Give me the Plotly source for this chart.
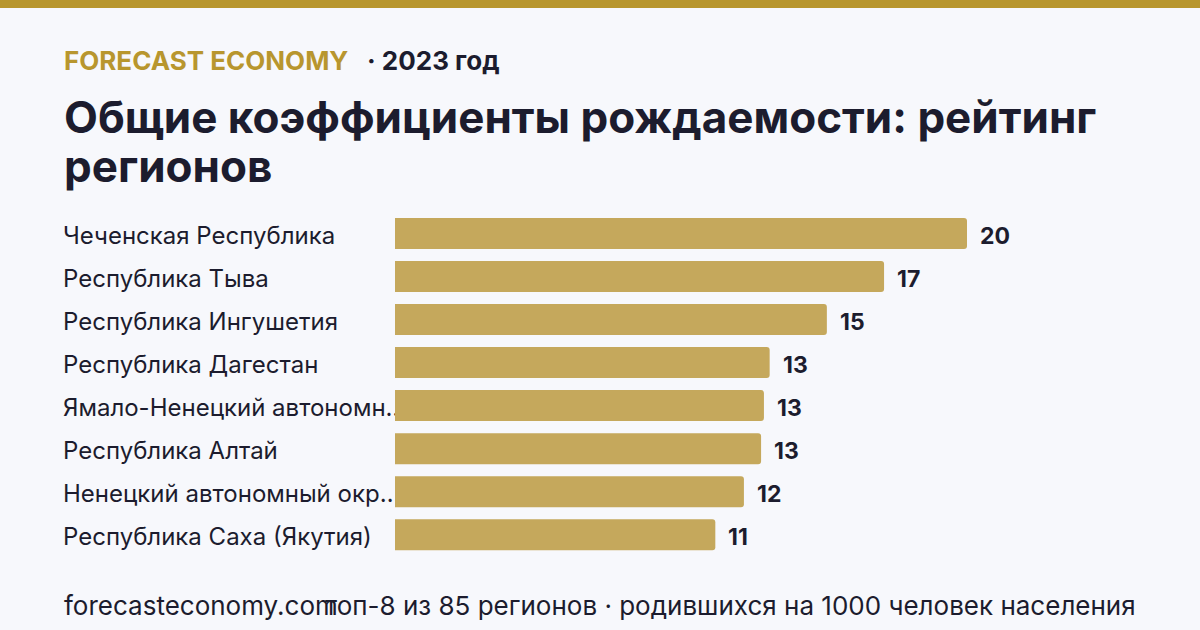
import plotly.graph_objects as go

# ---------------- data ----------------
regions_full = [
    "Чеченская Республика",
    "Республика Тыва",
    "Республика Ингушетия",
    "Республика Дагестан",
    "Ямало-Ненецкий автономный округ",
    "Республика Алтай",
    "Ненецкий автономный округ",
    "Республика Саха (Якутия)",
]
birth_rates = [20.0, 17.1, 15.1, 13.1, 12.9, 12.8, 12.2, 11.2]

brand = "FORECAST ECONOMY"
year_label = "· 2023 год"
title_line1 = "Общие коэффициенты рождаемости: рейтинг"
title_line2 = "регионов"
footer_left = "forecasteconomy.com"
footer_right = "топ-8 из 85 регионов · родившихся на 1000 человек населения"

# ---------------- style ----------------
W, H = 1200, 630
BG = "#f7f8fc"
GOLD = "#b8962e"
BAR = "#c5a85c"
DARK = "#1c1c2e"
FONT = "Inter"

MAXLEN = 24
labels = [r if len(r) <= MAXLEN else r[:MAXLEN - 1] + "…" for r in regions_full]

BAR_X0 = 395          # pixel where value 0 sits
PX_PER_UNIT = 572 / 20.0
ROW_TOP, ROW_BOTTOM = 212.0, 556.2  # pixel extent of category band
ROW_STEP = (ROW_BOTTOM - ROW_TOP) / len(labels)
LABEL_DROP = 4.0 / ROW_STEP   # labels sit a few px below bar centres


def fy(px):
    return 1 - px / H


def fx(px):
    return px / W


fig = go.Figure()

# category labels (base subplot, drawn beneath bars)
fig.add_trace(go.Scatter(
    x=[63] * len(labels), y=labels, mode="text", text=labels,
    textposition="middle right",
    textfont=dict(family=FONT, size=24, color=DARK),
    xaxis="x", yaxis="y", hoverinfo="skip", showlegend=False,
))

# bars (overlaying subplot, drawn on top)
fig.add_trace(go.Bar(
    x=birth_rates, y=labels, orientation="h",
    marker=dict(color=BAR, line=dict(width=0), cornerradius=3),
    xaxis="x2", yaxis="y2", hoverinfo="skip", showlegend=False,
))

annotations = []
for lab, v in zip(labels, birth_rates):
    annotations.append(dict(
        x=v, y=lab, xref="x2", yref="y2", text=f"{v:.0f}",
        xanchor="left", yanchor="middle", xshift=11, yshift=-2, showarrow=False,
        font=dict(family=FONT, size=23, color=DARK, weight="bold"),
    ))

annotations += [
    dict(x=fx(62), y=fy(61), xref="paper", yref="paper", text=brand,
         xanchor="left", yanchor="middle", showarrow=False,
         font=dict(family=FONT, size=26, color=GOLD, weight="bold")),
    dict(x=fx(365), y=fy(61), xref="paper", yref="paper", text=year_label,
         xanchor="left", yanchor="middle", showarrow=False,
         font=dict(family=FONT, size=26, color=DARK, weight="bold")),
    dict(x=fx(62), y=fy(117), xref="paper", yref="paper", text=title_line1,
         xanchor="left", yanchor="middle", showarrow=False,
         font=dict(family=FONT, size=44, color=DARK, weight="bold")),
    dict(x=fx(62), y=fy(166), xref="paper", yref="paper", text=title_line2,
         xanchor="left", yanchor="middle", showarrow=False,
         font=dict(family=FONT, size=44, color=DARK, weight="bold")),
    dict(x=fx(62), y=fy(605), xref="paper", yref="paper", text=footer_left,
         xanchor="left", yanchor="middle", showarrow=False,
         font=dict(family=FONT, size=26, color=DARK)),
    dict(x=fx(1138), y=fy(605), xref="paper", yref="paper", text=footer_right,
         xanchor="right", yanchor="middle", showarrow=False,
         font=dict(family=FONT, size=26, color=DARK)),
]

n = len(labels)
fig.update_layout(
    width=W, height=H,
    margin=dict(l=0, r=0, t=0, b=0, pad=0),
    paper_bgcolor=BG, plot_bgcolor="rgba(0,0,0,0)",
    bargap=0.279,
    xaxis=dict(domain=[0, 1], range=[0, W], visible=False, fixedrange=True),
    xaxis2=dict(overlaying="x", range=[-BAR_X0 / PX_PER_UNIT, (W - BAR_X0) / PX_PER_UNIT],
                visible=False, fixedrange=True),
    yaxis=dict(domain=[fy(ROW_BOTTOM), fy(ROW_TOP)], type="category",
               categoryorder="array", categoryarray=labels,
               range=[n - 0.5 - LABEL_DROP, -0.5 - LABEL_DROP],
               visible=False, fixedrange=True),
    yaxis2=dict(overlaying="y", type="category",
                categoryorder="array", categoryarray=labels,
                range=[n - 0.5, -0.5], visible=False, fixedrange=True),
    annotations=annotations,
    shapes=[dict(type="rect", xref="paper", yref="paper", x0=0, x1=1,
                 y0=fy(8), y1=1, fillcolor=GOLD, line=dict(width=0), layer="above")],
    showlegend=False,
)

fig.write_html("out.html", config={"displayModeBar": False})
